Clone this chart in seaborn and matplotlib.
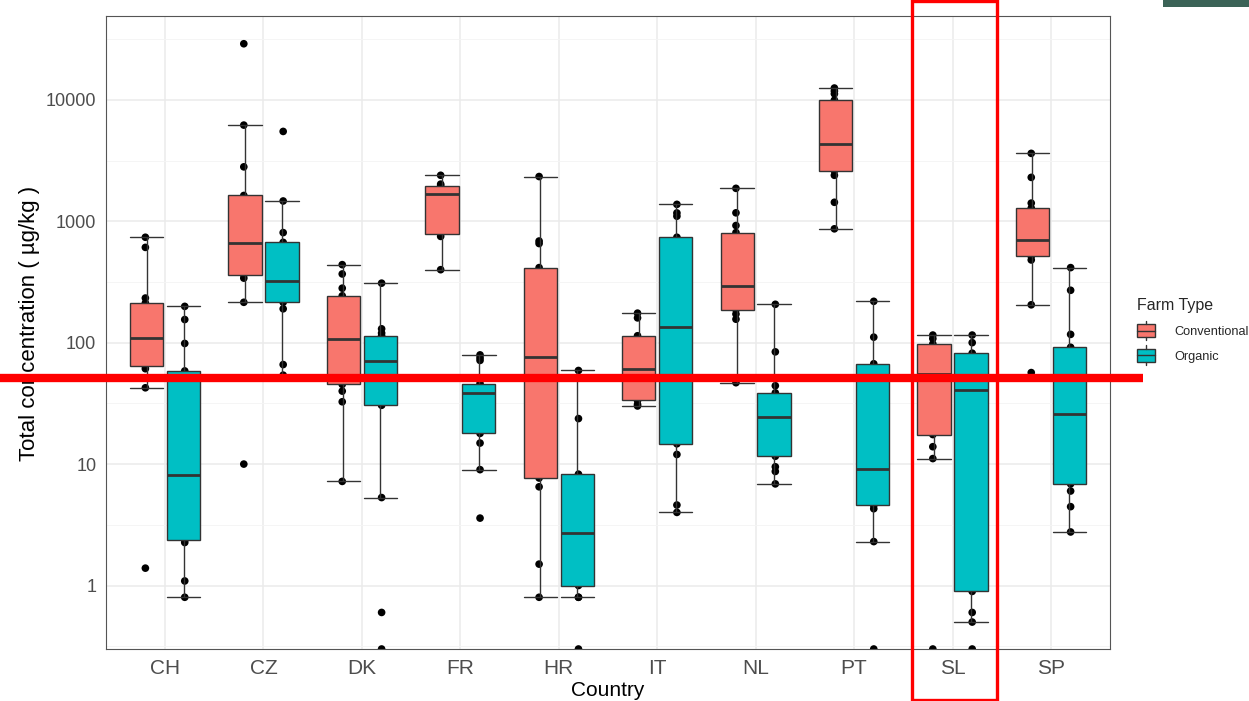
import numpy as np
import pandas as pd
import seaborn as sns
import matplotlib.pyplot as plt
from matplotlib.patches import Patch, Rectangle
from matplotlib.lines import Line2D
from matplotlib.legend_handler import HandlerBase
from matplotlib.ticker import FixedLocator, FuncFormatter, NullFormatter
from matplotlib.transforms import blended_transform_factory

countries = ['CH', 'CZ', 'DK', 'FR', 'HR', 'IT', 'NL', 'PT', 'SL', 'SP']
farm_types = ['Conventional', 'Organic']
farm_colors = ['#F8766D', '#00BFC4']

# total concentration per sample (µg/kg); 0 = not detected (drawn on the axis floor)
ch_conv = [1.39, 42.5, 61, 64, 80, 95, 109, 140, 180, 212, 233, 609, 738]
ch_org = [0.80, 1.09, 2.26, 2.37, 4, 6, 8.1, 15, 30, 58.5, 98.5, 155, 199]
cz_conv = [10, 215, 340, 362, 450, 550, 660, 900, 1200, 1630, 2805, 6190, 28950]
cz_org = [54, 66, 190, 215, 250, 280, 321, 400, 520, 670, 806, 1468, 5490]
dk_conv = [7.2, 32.6, 39.9, 45.3, 60, 80, 107, 140, 190, 243, 281, 368, 439]
dk_org = [0, 0.60, 5.3, 30.5, 30.9, 40, 55, 70, 85, 100, 114, 120, 130, 309]
fr_conv = [399, 750, 787, 1200, 1668, 1800, 1960, 2021, 2390]
fr_org = [3.59, 9.0, 14.9, 17.9, 25, 32, 38.6, 42, 44, 46, 71.4, 75, 79.3]
hr_conv = [0.80, 1.50, 6.5, 7.68, 20, 45, 75.6, 130, 250, 415, 655, 687, 2334]
hr_org = [0, 0.80, 0.80, 1.0, 1.8, 2.70, 5, 8.26, 23.7, 59]
it_conv = [30.1, 31, 33.4, 45, 61, 85, 114, 160, 175]
it_org = [4.0, 4.6, 12.0, 14.7, 40, 90, 135.5, 250, 450, 738, 1100, 1170, 1377]
nl_conv = [46.8, 156, 172, 187, 220, 260, 292, 400, 600, 806, 922, 1173, 1866]
nl_org = [6.87, 8.7, 9.5, 11.6, 15, 20, 24.3, 30, 35, 38.6, 44.2, 84, 207]
pt_conv = [866, 1432, 2390, 2610, 3200, 3800, 4360, 6000, 8000, 9930, 11200, 11800, 12500]
pt_org = [0, 2.30, 4.29, 4.57, 6.5, 9.16, 25, 67, 111, 219]
sl_conv = [0, 11.1, 13.9, 17.5, 30, 55.3, 75, 97.7, 108, 115.5]
sl_org = [0, 0.50, 0.60, 0.894, 10, 40.8, 60, 81.9, 100, 115.5]
sp_conv = [56.7, 205, 480, 515, 580, 640, 703, 800, 1000, 1282, 1410, 2297, 3622]
sp_org = [2.76, 4.46, 6.0, 6.87, 12, 18, 25.7, 40, 65, 91.6, 117, 270, 415]

threshold = 51          # red reference line
highlight = 'SL'        # boxed country
y_floor, y_top = 0.3, 49000

samples = {
    ('CH', 'Conventional'): ch_conv, ('CH', 'Organic'): ch_org,
    ('CZ', 'Conventional'): cz_conv, ('CZ', 'Organic'): cz_org,
    ('DK', 'Conventional'): dk_conv, ('DK', 'Organic'): dk_org,
    ('FR', 'Conventional'): fr_conv, ('FR', 'Organic'): fr_org,
    ('HR', 'Conventional'): hr_conv, ('HR', 'Organic'): hr_org,
    ('IT', 'Conventional'): it_conv, ('IT', 'Organic'): it_org,
    ('NL', 'Conventional'): nl_conv, ('NL', 'Organic'): nl_org,
    ('PT', 'Conventional'): pt_conv, ('PT', 'Organic'): pt_org,
    ('SL', 'Conventional'): sl_conv, ('SL', 'Organic'): sl_org,
    ('SP', 'Conventional'): sp_conv, ('SP', 'Organic'): sp_org,
}
rows = [(c, f, v) for (c, f), vals in samples.items() for v in vals]
df = pd.DataFrame(rows, columns=['Country', 'Farm Type', 'conc'])


class BoxKey(HandlerBase):
    # ggplot-like legend key: box with median line and whisker stubs
    def create_artists(self, legend, orig_handle, xdescent, ydescent,
                       width, height, fontsize, trans):
        x0, y0 = -xdescent, -ydescent
        ec = '#333333'
        box = Rectangle((x0, y0), width, height, facecolor=orig_handle.get_facecolor(),
                        edgecolor=ec, lw=1.0, transform=trans)
        med = Line2D([x0, x0 + width], [y0 + height / 2] * 2, color=ec, lw=1.0, transform=trans)
        w1 = Line2D([x0 + width / 2] * 2, [y0 - 0.25 * height, y0], color=ec, lw=1.0, transform=trans)
        w2 = Line2D([x0 + width / 2] * 2, [y0 + height, y0 + 1.25 * height], color=ec, lw=1.0,
                    transform=trans)
        return [box, med, w1, w2]


def main():
    sns.set_theme(style='whitegrid')
    plt.rcParams['font.family'] = ['Liberation Sans', 'DejaVu Sans']

    fig = plt.figure(figsize=(12.49, 7.01), dpi=100, facecolor='white')
    ax = fig.add_axes([106 / 1249, 1 - 649 / 701, (1110 - 106) / 1249, (649 - 16) / 701])

    # points first so the boxes cover the ones inside them (as in the original)
    pts = df.assign(conc=df['conc'].where(df['conc'] > 0, y_floor))
    sns.stripplot(data=pts, x='Country', y='conc', hue='Farm Type', order=countries,
                  hue_order=farm_types, palette=['black', 'black'], dodge=True, jitter=False,
                  size=5.5, legend=False, log_scale=True, ax=ax, zorder=1)
    sns.boxplot(data=df[df['conc'] > 0], x='Country', y='conc', hue='Farm Type',
                order=countries, hue_order=farm_types, palette=farm_colors, saturation=1,
                width=0.75, gap=0.1, linecolor='#333333', linewidth=1.0, showfliers=False,
                capwidths=0.34, medianprops={'linewidth': 2.0}, legend=False,
                log_scale=True, ax=ax)

    ax.set_xlim(-0.6, len(countries) - 0.4)
    ax.set_ylim(y_floor, y_top)
    ax.yaxis.set_major_locator(FixedLocator([1, 10, 100, 1000, 10000]))
    ax.yaxis.set_major_formatter(FuncFormatter(lambda v, p: f'{v:g}'))
    ax.yaxis.set_minor_locator(FixedLocator([10 ** (k + 0.5) for k in range(-1, 5)]))
    ax.yaxis.set_minor_formatter(NullFormatter())

    ax.set_axisbelow(True)
    ax.grid(False)
    ax.xaxis.grid(True, which='major', color='#ebebeb', lw=1.1)
    ax.yaxis.grid(True, which='major', color='#ebebeb', lw=1.1)
    ax.yaxis.grid(True, which='minor', color='#f4f4f4', lw=0.6)
    for s in ax.spines.values():
        s.set_visible(True)
        s.set_color('#555555')
        s.set_linewidth(0.8)
    ax.tick_params(which='major', length=4, width=0.8, color='#555555', labelcolor='#4d4d4d', pad=3)
    ax.tick_params(which='minor', length=0)
    ax.tick_params(axis='x', labelsize=15)
    ax.tick_params(axis='y', labelsize=13)
    ax.set_xlabel('Country', fontsize=15, color='black', labelpad=2)
    ax.set_ylabel('Total concentration ( µg/kg )', fontsize=16, color='black')
    ax.yaxis.set_label_coords(-0.066, 0.514)

    # red threshold line and highlight box drawn over the chart
    ax.axhline(threshold, xmin=-106 / 1004, xmax=(1143 - 106) / 1004, color='red',
               lw=6, clip_on=False, zorder=6, solid_capstyle='butt')
    k = countries.index(highlight)
    trans = blended_transform_factory(ax.transData, fig.transFigure)
    ax.add_patch(Rectangle((k - 0.41, 0.002), 0.86, 0.996, fill=False, edgecolor='red',
                           lw=2.4, transform=trans, clip_on=False, zorder=7))

    # dark tab cut off at the top right of the screenshot
    fig.add_artist(Rectangle((1163 / 1249, 1 - 7 / 701), 1 - 1163 / 1249, 7 / 701,
                             transform=fig.transFigure, facecolor='#3b6357', edgecolor='none'))

    handles = [Patch(facecolor=c) for c in farm_colors]
    fig.legend(handles, farm_types, title='Farm Type', loc='upper left',
               bbox_to_anchor=(1132 / 1249, 1 - 293 / 701), frameon=False,
               handler_map={Patch: BoxKey()}, handlelength=1.4, handleheight=1.2,
               labelspacing=0.85, handletextpad=1.55, fontsize=9.2, title_fontsize=11.5,
               alignment='left', borderaxespad=0)

    fig.savefig('out.png', dpi=100, facecolor='white')


if __name__ == '__main__':
    main()
